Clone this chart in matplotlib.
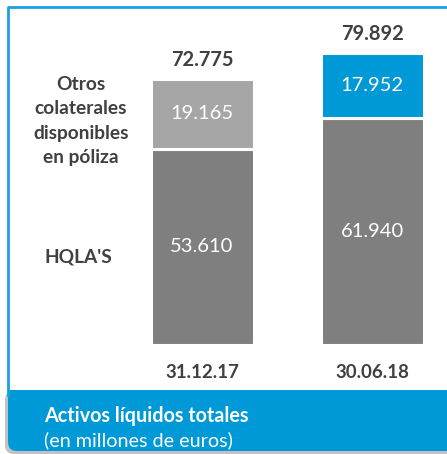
import matplotlib.pyplot as plt
from matplotlib.patches import FancyBboxPatch, Rectangle
from matplotlib.lines import Line2D

plt.rcParams["font.family"] = ["Lato", "DejaVu Sans"]

# =========================
# Data
# =========================
dates = ["31.12.17", "30.06.18"]
hqla = [53.610, 61.940]
otros = [19.165, 17.952]
totals = [72.775, 79.892]
otros_colors = ["#A6A6A6", "#0099D8"]
hqla_color = "#7F7F7F"

W, H = 447, 454
fig = plt.figure(figsize=(W / 100, H / 100), dpi=100)

# axes mapped to pixels: bars bottom at y=344 px, 3.65 px per unit
px_per_unit = 3.65
bottom_px, top_px = 344.5, 10
ax = fig.add_axes([0, (H - bottom_px) / H, 1, (bottom_px - top_px) / H])
ax.set_ylim(0, (bottom_px - top_px) / px_per_unit)
step = 170.0
ax.set_xlim(-202 / step, (W - 202) / step)
ax.axis("off")

x = list(range(len(dates)))
bw = 103 / step


def fmt(v):
    return f"{v:.3f}"


ax.bar(x, hqla, width=bw, color=hqla_color, edgecolor="white", linewidth=2.2)
ax.bar(x, otros, bottom=hqla, width=bw, color=otros_colors,
       edgecolor="white", linewidth=2.2)

for i in x:
    ax.text(i, hqla[i] / 2, fmt(hqla[i]), ha="center", va="center",
            color="white", fontsize=14.5)
    ax.text(i, hqla[i] + otros[i] / 2, fmt(otros[i]), ha="center", va="center",
            color="white", fontsize=14.5)
    ax.text(i, totals[i] + 5.3, fmt(totals[i]), ha="center", va="center",
            color="#404040", fontsize=14.5, fontweight="bold")
    ax.text(i, -7.8, dates[i], ha="center", va="center", color="#404040",
            fontsize=13.5, fontweight="bold", clip_on=False)

# series labels on the left
lab_x = (81 - 202) / step
ax.text(lab_x, (344.5 - 121) / px_per_unit,
        "Otros\ncolaterales\ndisponibles\nen póliza",
        ha="center", va="center", color="#404040", fontsize=13.8,
        fontweight="bold", linespacing=1.5)
ax.text((78 - 202) / step, (344.5 - 257) / px_per_unit, "HQLA'S",
        ha="center", va="center", color="#404040", fontsize=13.8,
        fontweight="bold")

# frame (top + left border)
fig.add_artist(Line2D([8 / W, 8 / W, 1], [1 - 395 / H, 1 - 7 / H, 1 - 7 / H],
                      transform=fig.transFigure, color="#1BA1DF", lw=2))

# bottom banner with shadow
shadow = FancyBboxPatch((5 / W, 1 - 454 / H), 460 / W, 63 / H,
                        boxstyle="round,pad=0,rounding_size=0.02",
                        transform=fig.transFigure, facecolor="#9A9A9A",
                        edgecolor="none", alpha=0.6)
fig.add_artist(shadow)
banner = FancyBboxPatch((8 / W, 1 - 451 / H), 460 / W, 61 / H,
                        boxstyle="round,pad=0,rounding_size=0.02",
                        transform=fig.transFigure, facecolor="#0099D8",
                        edgecolor="none")
fig.add_artist(banner)
fig.add_artist(Rectangle((8 / W, 1 - 420 / H), 460 / W, 30 / H,
                         transform=fig.transFigure, facecolor="#0099D8",
                         edgecolor="none"))
fig.text(44 / W, 1 - 416 / H, "Activos líquidos totales", ha="left",
         va="center", color="white", fontsize=14.2, fontweight="bold")
fig.text(44 / W, 1 - 440 / H, "(en millones de euros)", ha="left",
         va="center", color="white", fontsize=14.2)

fig.savefig("out.png", dpi=100)
